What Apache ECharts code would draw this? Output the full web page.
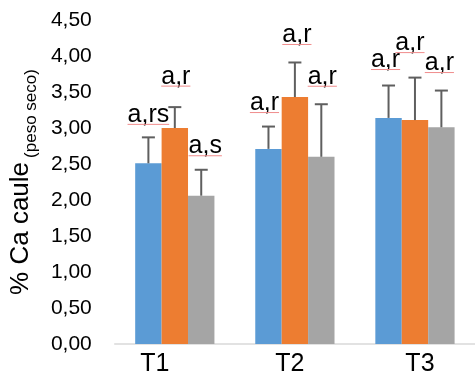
<!DOCTYPE html>
<html>
<head>
<meta charset="utf-8">
<script src="https://cdn.jsdelivr.net/npm/echarts@6/dist/echarts.min.js"></script>
<style>
  html, body { margin: 0; padding: 0; background: #fff; }
  #chart { width: 475px; height: 383px; }
</style>
</head>
<body>
<div id="chart"></div>
<script>
// Calcium content in stems (% dry weight) per treatment, three groups per treatment
const categories = ['T1', 'T2', 'T3'];
const seriesA = [2.51, 2.71, 3.14];
const seriesB = [3.00, 3.43, 3.11];
const seriesC = [2.06, 2.60, 3.01];
const errA = [0.36, 0.31, 0.45];
const errB = [0.29, 0.48, 0.59];
const errC = [0.36, 0.73, 0.51];
const lettersA = ['a,rs', 'a,r', 'a,r'];
const lettersB = ['a,r', 'a,r', 'a,r'];
const lettersC = ['a,s', 'a,r', 'a,r'];
const yTicks = { min: 0, max: 4.5, step: 0.5 };

// label placement (pixels): lift of the underline above whisker top, horizontal nudge
const labelLift = [[13, 21, 14], [14, 18, 18], [16, 25, 18]];
const labelNudge = [[0, 1, 4], [-4, 2, 1], [-3, -5, -2]];

const COLORS = ['#5B9BD5', '#ED7D31', '#A5A5A5'];
const CAT_GAP = 0.34;
const FONT = '"Liberation Sans", Arial, sans-serif';
const LABEL_SIZE = 25;

const values = [seriesA, seriesB, seriesC];
const errs = [errA, errB, errC];
const letters = [lettersA, lettersB, lettersC];

const measureCtx = document.createElement('canvas').getContext('2d');
function textWidth(t, font) { measureCtx.font = font; return measureCtx.measureText(t).width; }

const annoData = [];
for (let s = 0; s < 3; s++) {
  for (let c = 0; c < categories.length; c++) {
    annoData.push([c, s, values[s][c], errs[s][c]]);
  }
}

const chart = echarts.init(document.getElementById('chart'), null, { renderer: 'canvas' });

const barSeries = values.map((v, i) => ({
  type: 'bar',
  data: v,
  barGap: 0,
  barCategoryGap: (CAT_GAP * 100) + '%',
  itemStyle: { color: COLORS[i] },
  silent: true
}));

const labelFont = LABEL_SIZE + 'px ' + FONT;

// whiskers (upper only) plus the significance letters with their underline
const annoSeries = {
  type: 'custom',
  data: annoData,
  z: 10,
  silent: true,
  renderItem: function (params, api) {
    const c = api.value(0), s = api.value(1), v = api.value(2), e = api.value(3);
    const band = api.size([1, 0])[0];
    const barW = band * (1 - CAT_GAP) / 3;
    const base = api.coord([c, v]);
    const top = api.coord([c, v + e]);
    const x = base[0] + (s - 1) * barW;
    const cap = 6.5;
    const txt = letters[s][c];
    const underY = top[1] - labelLift[c][s];
    const tx = x + labelNudge[c][s];
    const w = textWidth(txt, labelFont);
    return {
      type: 'group',
      children: [
        { type: 'line', shape: { x1: x, y1: base[1], x2: x, y2: top[1] },
          style: { stroke: '#5f5f5f', lineWidth: 2 } },
        { type: 'line', shape: { x1: x - cap, y1: top[1], x2: x + cap, y2: top[1] },
          style: { stroke: '#5f5f5f', lineWidth: 2 } },
        { type: 'text', style: { text: txt, x: tx, y: underY - 22, align: 'center',
          verticalAlign: 'top', font: labelFont, fill: '#000' } },
        { type: 'line', shape: { x1: tx - w / 2, y1: underY, x2: tx + w / 2, y2: underY },
          style: { stroke: '#f08c8c', lineWidth: 1 } }
      ]
    };
  }
};

const catPad = { T1: [0, 40, 0, 0], T2: [0, 10, 0, 0], T3: [0, 0, 0, 10] };

chart.setOption({
  animation: false,
  backgroundColor: '#ffffff',
  grid: { left: 110, right: -2, top: 20, bottom: 39, containLabel: false },
  xAxis: {
    type: 'category',
    data: categories,
    axisLine: { show: true, lineStyle: { color: '#d9d9d9', width: 1.5 } },
    axisTick: { show: false },
    axisLabel: {
      margin: 8,
      formatter: function (v) { return '{' + v + '|' + v + '}'; },
      rich: Object.fromEntries(categories.map(k => [k, {
        fontFamily: FONT, fontSize: 25, color: '#000', padding: catPad[k]
      }]))
    }
  },
  yAxis: {
    type: 'value',
    min: yTicks.min,
    max: yTicks.max,
    interval: yTicks.step,
    splitLine: { show: false },
    axisLine: { show: false },
    axisTick: { show: false },
    axisLabel: {
      margin: 23,
      fontFamily: FONT,
      fontSize: 21,
      color: '#000',
      formatter: v => v.toFixed(2).replace('.', ',')
    },
    name: '{m|% Ca caule}{s|(peso seco)}',
    nameLocation: 'middle',
    nameGap: 68,
    nameRotate: 90,
    nameTextStyle: {
      rich: {
        m: { fontFamily: FONT, fontSize: 26, color: '#000', lineHeight: 32, verticalAlign: 'top' },
        s: { fontFamily: FONT, fontSize: 17, color: '#000', lineHeight: 17, verticalAlign: 'bottom', padding: [0, 0, 0, 4] }
      }
    }
  },
  series: [...barSeries, annoSeries]
});
</script>
</body>
</html>
